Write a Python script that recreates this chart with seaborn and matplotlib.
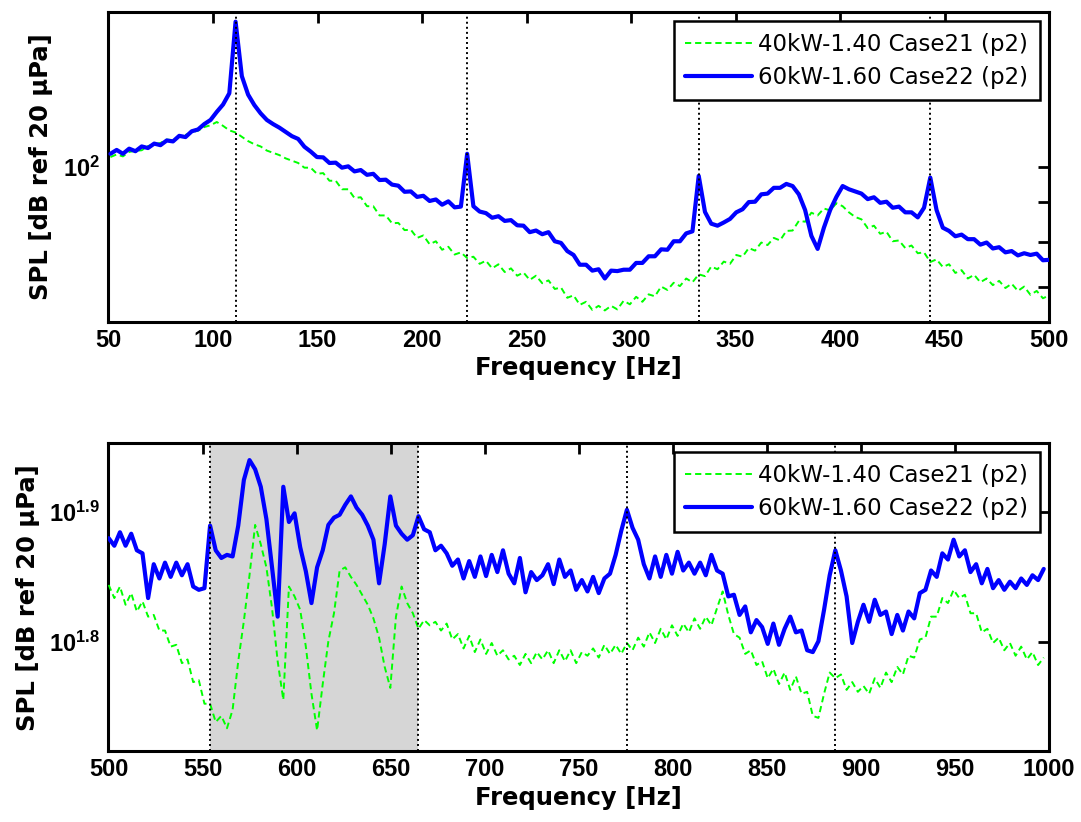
import numpy as np
import pandas as pd
import matplotlib
matplotlib.use("Agg")
import matplotlib.pyplot as plt
import seaborn as sns
from matplotlib.ticker import FixedLocator, FixedFormatter, NullFormatter, NullLocator

# ---------------- data ----------------
label_g = "40kW-1.40 Case21 (p2)"
label_b = "60kW-1.60 Case22 (p2)"

harmonic_f0 = 110.8          # fundamental (Hz); spectrum bin = f0 / 37
bins_per_f0 = 37
top_bins = range(17, 168)    # 50.9 ... 500.1 Hz
bot_bins = range(167, 334)   # 500.1 ... 997.2 Hz
top_freq = [harmonic_f0 * k / bins_per_f0 for k in top_bins]
bot_freq = [harmonic_f0 * k / bins_per_f0 for k in bot_bins]

top_blue = [
    104.0, 105.2, 104.0, 105.6, 104.8, 106.3, 105.8, 107.2, 106.7, 108.2,
    107.9, 109.7, 109.3, 111.2, 111.8, 113.6, 115.0, 117.8, 120.4, 124.5,
    154.0, 131.0, 124.0, 120.2, 117.3, 115.0, 113.6, 112.4, 111.0, 109.6,
    108.7, 106.2, 104.7, 103.0, 102.9, 101.2, 101.3, 99.8, 100.2, 98.7,
    99.1, 97.7, 98.0, 96.2, 96.3, 94.9, 94.6, 92.9, 93.0, 91.5,
    91.8, 90.4, 90.8, 89.4, 90.3, 88.7, 88.9, 104.0, 89.0, 87.6,
    87.2, 86.0, 86.4, 85.2, 85.4, 84.1, 84.0, 82.4, 82.8, 81.9,
    82.4, 80.2, 79.8, 77.9, 77.0, 74.8, 74.8, 73.5, 73.8, 71.8,
    73.5, 73.4, 73.7, 73.7, 75.2, 75.2, 76.7, 76.7, 78.3, 78.2,
    80.2, 80.2, 82.1, 82.6, 97.4, 87.5, 84.5, 84.0, 84.8, 85.7,
    87.4, 88.2, 90.1, 90.2, 92.2, 92.4, 94.0, 94.0, 95.1, 94.5,
    92.2, 88.0, 81.5, 78.4, 83.5, 88.0, 91.5, 94.5, 93.6, 93.0,
    92.4, 90.9, 91.4, 89.9, 90.2, 88.6, 88.9, 87.4, 87.4, 86.1,
    88.6, 96.9, 88.0, 83.5, 82.7, 81.4, 81.8, 80.7, 80.7, 79.4,
    79.9, 78.5, 78.8, 77.6, 77.9, 76.9, 77.4, 77.0, 77.3, 75.8,
    75.9,
]
top_green = [
    103.0, 103.8, 103.2, 104.6, 104.9, 105.1, 106.4, 107.0, 107.4, 108.5,
    108.3, 109.6, 110.0, 110.9, 111.4, 112.6, 113.2, 114.3, 113.0, 111.5,
    110.8, 109.4, 108.0, 107.0, 106.3, 105.0, 104.3, 103.6, 102.6, 101.9,
    101.2, 99.8, 99.8, 98.0, 98.2, 96.0, 96.0, 93.6, 93.6, 91.2,
    91.4, 89.0, 89.0, 86.6, 86.6, 84.6, 84.7, 82.9, 83.0, 81.0,
    81.6, 79.5, 80.2, 78.2, 78.9, 77.1, 77.6, 76.3, 76.6, 75.0,
    75.7, 74.0, 74.9, 73.2, 74.0, 72.4, 73.1, 71.5, 72.4, 70.8,
    71.4, 69.6, 69.9, 67.8, 68.3, 66.4, 67.0, 65.4, 66.2, 65.3,
    66.2, 65.5, 67.2, 66.5, 68.0, 67.0, 68.5, 68.1, 70.1, 69.4,
    70.9, 70.2, 71.8, 71.0, 72.7, 72.3, 74.4, 73.8, 75.5, 75.0,
    77.0, 76.6, 78.6, 78.0, 79.9, 79.3, 81.0, 80.4, 82.7, 82.8,
    85.2, 85.0, 87.3, 86.6, 88.4, 87.9, 89.8, 89.0, 87.4, 86.2,
    85.6, 83.4, 84.0, 82.0, 82.5, 80.2, 80.4, 78.6, 79.2, 77.4,
    77.6, 75.4, 76.0, 74.3, 74.9, 73.0, 73.6, 71.8, 72.6, 71.0,
    71.8, 70.4, 71.3, 69.8, 70.7, 69.2, 70.1, 68.4, 69.2, 67.7,
    68.3,
]

bot_blue = [
    75.8, 74.8, 76.6, 74.8, 76.4, 74.2, 73.8, 68.2, 72.4, 70.6,
    72.6, 70.8, 72.6, 71.0, 72.4, 69.6, 69.2, 69.4, 77.5, 74.2,
    73.2, 73.6, 73.4, 77.5, 84.0, 87.0, 85.6, 83.0, 78.4, 72.0,
    66.0, 83.0, 78.0, 79.2, 74.6, 71.5, 67.6, 72.0, 74.2, 77.6,
    78.6, 79.0, 80.4, 81.6, 80.0, 79.0, 77.5, 75.6, 70.0, 75.0,
    81.6, 77.5, 76.4, 75.6, 76.2, 78.8, 77.0, 76.6, 74.2, 74.8,
    73.8, 72.2, 73.0, 70.6, 72.8, 70.8, 73.4, 70.9, 73.6, 71.4,
    74.2, 71.2, 70.0, 73.2, 68.9, 71.4, 70.4, 71.0, 72.4, 69.9,
    73.0, 70.8, 71.6, 69.2, 70.4, 69.0, 70.8, 68.8, 70.6, 71.2,
    73.6, 76.8, 79.7, 77.2, 75.6, 72.4, 70.6, 73.4, 70.8, 73.6,
    71.2, 74.0, 71.6, 72.6, 71.2, 72.6, 71.0, 73.6, 71.6, 71.2,
    68.4, 68.6, 66.2, 67.2, 64.2, 65.6, 64.8, 62.9, 65.2, 62.8,
    64.6, 66.0, 64.2, 64.4, 62.2, 62.0, 63.2, 66.8, 71.0, 74.2,
    71.6, 68.4, 63.0, 65.4, 67.4, 65.4, 68.0, 66.2, 66.6, 64.0,
    66.2, 64.4, 66.6, 65.8, 68.8, 69.2, 71.6, 70.8, 73.8, 73.0,
    75.6, 73.4, 74.2, 71.4, 72.4, 70.0, 71.8, 69.4, 70.4, 69.2,
    70.2, 69.4, 70.6, 69.8, 71.0, 70.4, 71.8,
]
bot_green = [
    69.8, 68.2, 69.6, 67.4, 68.8, 66.6, 67.8, 66.0, 66.2, 64.4,
    64.4, 62.6, 62.8, 60.8, 61.2, 58.8, 59.0, 56.6, 56.6, 54.8,
    55.4, 54.2, 56.0, 61.0, 65.5, 71.0, 77.6, 75.0, 72.0, 67.0,
    61.0, 57.0, 69.6, 68.4, 66.8, 62.6, 57.6, 54.0, 58.6, 63.2,
    66.4, 71.6, 72.0, 70.8, 69.8, 68.6, 67.4, 65.8, 63.6, 60.4,
    58.2, 66.0, 69.6, 67.6, 66.4, 64.6, 65.6, 65.0, 65.4, 64.4,
    65.2, 63.4, 64.0, 62.4, 63.8, 62.0, 63.4, 61.8, 63.0, 61.6,
    62.2, 61.2, 61.6, 60.6, 61.8, 60.8, 62.0, 61.2, 62.2, 60.8,
    62.2, 61.0, 62.2, 60.8, 62.0, 61.6, 62.4, 61.4, 62.8, 61.8,
    62.8, 61.8, 63.0, 62.2, 63.6, 62.6, 64.2, 63.0, 64.6, 63.4,
    65.0, 63.8, 65.2, 64.2, 65.8, 64.6, 66.0, 65.0, 67.0, 69.0,
    66.2, 64.0, 63.6, 61.8, 62.2, 60.6, 61.0, 59.2, 60.2, 58.6,
    59.8, 58.0, 59.4, 57.6, 57.8, 55.4, 55.2, 57.6, 59.8, 59.2,
    59.6, 58.0, 58.8, 57.8, 58.4, 57.6, 59.2, 58.2, 59.8, 58.8,
    60.4, 59.6, 61.6, 61.4, 63.4, 63.6, 66.0, 66.0, 68.2, 67.6,
    69.2, 68.2, 68.6, 66.4, 66.4, 64.2, 64.6, 63.0, 63.6, 62.2,
    63.0, 61.6, 62.6, 61.2, 62.0, 60.6, 61.4,
]

top_harmonics = [1, 2, 3, 4]
bot_harmonics = [5, 6, 7, 8]
shade_harmonics = (5, 6)

top_xticks = list(range(50, 501, 50))
bot_xticks = list(range(500, 1001, 50))
top_yticks = [100]
top_ytick_labels = [r"$\mathrm{10^{2}}$"]
top_yminor = [70, 80, 90]
bot_yticks = [10 ** 1.8, 10 ** 1.9]
bot_ytick_labels = [r"$\mathrm{10^{1.8}}$", r"$\mathrm{10^{1.9}}$"]

# ---------------- style ----------------
sns.set_theme(style="white")
plt.rcParams["font.family"] = ["Liberation Sans", "DejaVu Sans"]
plt.rcParams["mathtext.fontset"] = "custom"
plt.rcParams["mathtext.rm"] = "Liberation Sans:bold"
plt.rcParams["mathtext.it"] = "Liberation Sans:bold:italic"
plt.rcParams["mathtext.bf"] = "Liberation Sans:bold"
for key in ["text.color", "axes.labelcolor", "xtick.color", "ytick.color"]:
    plt.rcParams[key] = "black"

GREEN = "#00ff00"
BLUE = "#0000ff"

fig = plt.figure(figsize=(10.81, 8.22), dpi=100)
ax1 = fig.add_axes([0.10037, 0.60827, 0.87003, 0.37713])
ax2 = fig.add_axes([0.10037, 0.08577, 0.87003, 0.37494])


def make_df(freq, g, b):
    return pd.DataFrame({
        "Frequency": list(freq) + list(freq),
        "SPL": list(g) + list(b),
        "Case": [label_g] * len(freq) + [label_b] * len(freq),
    })


panels = [
    (ax1, make_df(top_freq, top_green, top_blue), (50, 500),
     (10 ** 1.8, 10 ** 2.2), top_xticks, top_harmonics),
    (ax2, make_df(bot_freq, bot_green, bot_blue), (500, 1000),
     (10 ** 1.7162, 10 ** 1.9524), bot_xticks, bot_harmonics),
]

for ax, df, xlim, ylim, xticks, harms in panels:
    ax.set_yscale("log")
    dg = df[df["Case"] == label_g]
    db = df[df["Case"] == label_b]
    sns.lineplot(data=dg, x="Frequency", y="SPL", ax=ax, color=GREEN,
                 linewidth=1.4, estimator=None, errorbar=None,
                 label=label_g, zorder=3)
    lg = ax.lines[-1]
    lg.set_linestyle((0, (3.2, 2.0)))
    sns.lineplot(data=db, x="Frequency", y="SPL", ax=ax, color=BLUE,
                 linewidth=3.0, estimator=None, errorbar=None,
                 label=label_b, zorder=4)
    lb = ax.lines[-1]
    for k in harms:
        ax.axvline(harmonic_f0 * k, color="black", linestyle=(0, (1, 1.6)),
                   linewidth=1.4, zorder=5)
    ax.set_xlim(*xlim)
    ax.set_ylim(*ylim)
    ax.set_xticks(xticks)
    ax.set_xticklabels([str(t) for t in xticks])
    ax.set_xlabel("Frequency [Hz]", fontsize=17.5, fontweight="bold",
                  family="DejaVu Sans", labelpad=3)
    ax.set_ylabel("SPL [dB ref 20 μPa]", fontsize=17.5, fontweight="bold",
                  family="DejaVu Sans", labelpad=7)
    ax.tick_params(axis="both", which="both", direction="in", top=True,
                   right=True, length=8, width=2, labelsize=17, colors="black")
    ax.tick_params(axis="x", pad=5)
    ax.tick_params(axis="y", pad=6)
    for t in ax.get_xticklabels() + ax.get_yticklabels():
        t.set_fontweight("bold")
    for s in ax.spines.values():
        s.set_linewidth(2.2)
        s.set_color("black")
    leg = ax.legend(handles=[lg, lb], labels=[label_g, label_b],
                    loc="upper right", fancybox=False, framealpha=1,
                    edgecolor="black", borderaxespad=0.4, handlelength=2.9,
                    handletextpad=0.3, labelspacing=0.45, borderpad=0.5,
                    prop={"family": "DejaVu Sans", "size": 16.5})
    leg.get_frame().set_linewidth(1.8)
    leg.set_zorder(10)

# y ticks (log axes)
ax1.yaxis.set_major_locator(FixedLocator(top_yticks))
ax1.yaxis.set_major_formatter(FixedFormatter(top_ytick_labels))
ax1.yaxis.set_minor_locator(FixedLocator(top_yminor))
ax1.yaxis.set_minor_formatter(NullFormatter())

ax2.yaxis.set_major_locator(FixedLocator(bot_yticks))
ax2.yaxis.set_major_formatter(FixedFormatter(bot_ytick_labels))
ax2.yaxis.set_minor_locator(NullLocator())

for ax in (ax1, ax2):
    for t in ax.get_yticklabels():
        t.set_fontsize(17)

# shaded band in lower panel
ax2.axvspan(harmonic_f0 * shade_harmonics[0], harmonic_f0 * shade_harmonics[1],
            color="#d6d6d6", zorder=0, linewidth=0)

fig.savefig("out.png", dpi=100)
